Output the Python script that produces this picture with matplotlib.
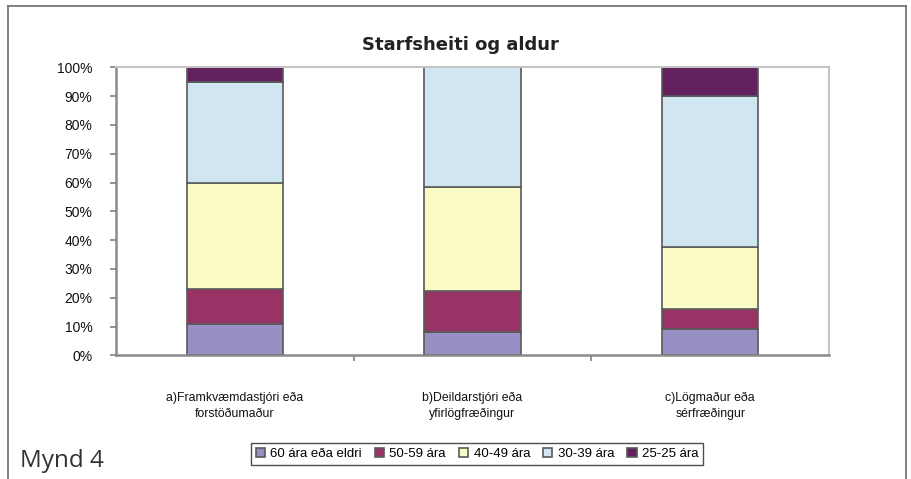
import matplotlib
matplotlib.use('Agg')
import matplotlib.pyplot as plt
import numpy as np
from matplotlib.lines import Line2D
from matplotlib.ticker import FixedLocator

plt.rcParams['font.family'] = ['Liberation Sans', 'DejaVu Sans']

# Data (percent of each job title)
categories = ['a)Framkvæmdastjóri eða\nforstöðumaður',
              'b)Deildarstjóri eða\nyfirlögfræðingur',
              'c)Lögmaður eða\nsérfræðingur']
series_names = ['60 ára eða eldri', '50-59 ára', '40-49 ára', '30-39 ára', '25-25 ára']
age_60_plus = [11, 8, 9]
age_50_59 = [12, 14.5, 7]
age_40_49 = [37, 36, 21.5]
age_30_39 = [35, 41.5, 52.5]
age_25_29 = [5, 0, 10]
colors = ['#9890C4', '#993366', '#FBFBC6', '#D0E7F2', '#62205F']

values = [age_60_plus, age_50_59, age_40_49, age_30_39, age_25_29]

fig = plt.figure(figsize=(9.11, 4.79), dpi=100)
ax = fig.add_axes([116 / 911, 1 - 355.3 / 479, (829 - 116) / 911, (355.3 - 67.3) / 479])

x = np.arange(len(categories))
bottom = np.zeros(len(categories))
for name, vals, col in zip(series_names, values, colors):
    ax.bar(x, vals, width=0.405, bottom=bottom, color=col, edgecolor='#5a5a5a',
           linewidth=1.2, label=name)
    bottom += np.array(vals)

ax.set_xlim(-0.5, 2.5)
ax.set_ylim(0, 100)
ax.set_yticks(np.arange(0, 101, 10))
ax.set_yticklabels([f'{v}%' for v in range(0, 101, 10)], fontsize=10, color='#111111')
ax.set_xticks(x)
ax.set_xticklabels(categories, fontsize=8.8, color='#111111', linespacing=1.45)
ax.xaxis.set_minor_locator(FixedLocator([0.5, 1.5]))
ax.tick_params(axis='x', which='major', length=0, pad=26)
ax.tick_params(axis='x', which='minor', length=4, width=1.2, color='#808080', direction='out')
ax.tick_params(axis='y', length=4, width=1.2, color='#808080', direction='out', pad=13)

for s in ['left', 'bottom']:
    ax.spines[s].set_color('#8a8a8a')
    ax.spines[s].set_linewidth(1.8)
for s in ['top', 'right']:
    ax.spines[s].set_color('#c4c4c4')
    ax.spines[s].set_linewidth(1.5)

fig.text(460 / 911, 1 - 45 / 479, 'Starfsheiti og aldur', ha='center', va='center',
         fontsize=13, fontweight='bold', color='#222222', family=['DejaVu Sans'])

leg = fig.legend(loc='center', bbox_to_anchor=(477 / 911, 1 - 454 / 479), ncol=5,
                 fontsize=9.5, frameon=True, fancybox=False, handlelength=0.7,
                 handleheight=0.7, handletextpad=0.4, columnspacing=1.0,
                 borderpad=0.35)
leg.get_frame().set_edgecolor('#222222')
leg.get_frame().set_linewidth(1.0)
for h in leg.legend_handles:
    h.set_edgecolor('#5a5a5a')

fig.text(20 / 911, 1 - 461 / 479, 'Mynd 4', ha='left', va='center', fontsize=17.5,
         color='#333333', family=['Open Sans', 'DejaVu Sans'])

# outer frame
for xs, ys in [([8, 8], [479, 6]), ([8, 906], [6, 6]), ([906, 906], [6, 479])]:
    fig.add_artist(Line2D([v / 911 for v in xs], [1 - v / 479 for v in ys],
                          color='#777777', linewidth=1.3))

fig.savefig('out.png', dpi=100)
